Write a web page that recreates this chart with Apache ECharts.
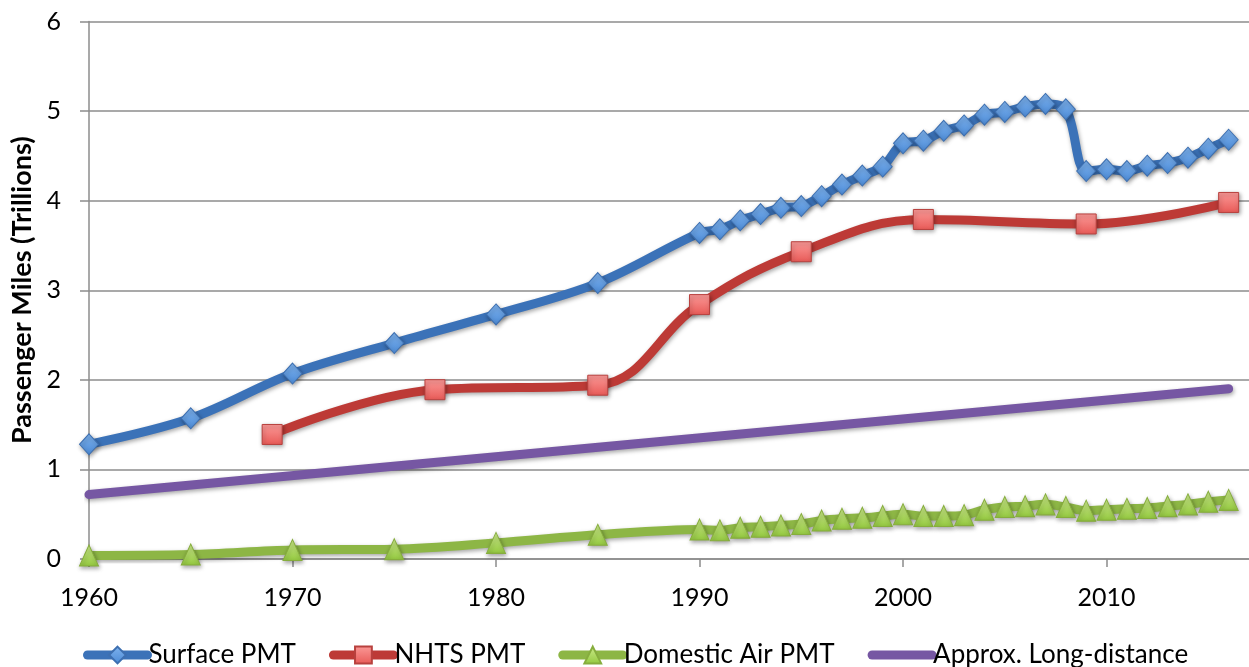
<!DOCTYPE html>
<html>
<head>
<meta charset="utf-8">
<script src="https://cdn.jsdelivr.net/npm/echarts@6/dist/echarts.min.js"></script>
<style>
html,body{margin:0;padding:0;background:#fff;}
#chart{width:1249px;height:667px;}
</style>
</head>
<body>
<div id="chart"></div>
<script>
// ---- Data ----
var surfaceYears = [1960,1965,1970,1975,1980,1985,1990,1991,1992,1993,1994,1995,1996,1997,1998,1999,2000,2001,2002,2003,2004,2005,2006,2007,2008,2009,2010,2011,2012,2013,2014,2015,2016];
var surfaceValues = [1.28,1.57,2.07,2.41,2.73,3.08,3.64,3.68,3.78,3.85,3.92,3.94,4.05,4.18,4.28,4.38,4.64,4.67,4.78,4.84,4.96,4.99,5.05,5.08,5.02,4.33,4.35,4.33,4.39,4.42,4.48,4.58,4.68];
var nhtsYears = [1969,1977,1985,1990,1995,2001,2009,2016];
var nhtsValues = [1.39,1.89,1.94,2.84,3.43,3.79,3.74,3.98];
var airYears = surfaceYears;
var airValues = [0.04,0.05,0.10,0.11,0.18,0.27,0.33,0.32,0.35,0.36,0.375,0.39,0.43,0.45,0.46,0.48,0.50,0.48,0.48,0.49,0.55,0.58,0.59,0.61,0.58,0.54,0.55,0.56,0.57,0.59,0.61,0.64,0.66];
var longYears = [1960,2016];
var longValues = [0.72,1.90];
var seriesNames = ['Surface PMT','NHTS PMT','Domestic Air PMT','Approx. Long-distance'];
var yTicks = [0,1,2,3,4,5,6];
var xTicks = [1960,1970,1980,1990,2000,2010];

function pairs(xs, ys){ return xs.map(function(x,i){ return [x, ys[i]]; }); }

var FONT = 'Lato';
var chart = echarts.init(document.getElementById('chart'));
var shadow = {shadowBlur:4, shadowColor:'rgba(0,0,0,0.35)', shadowOffsetX:1, shadowOffsetY:2};

function grad(c1,c2){ return new echarts.graphic.LinearGradient(0,0,0,1,[{offset:0,color:c1},{offset:1,color:c2}]); }

chart.setOption({
  animation:false,
  backgroundColor:'#ffffff',
  grid:{left:89, right:0, top:21.5, bottom:108, containLabel:false},
  xAxis:{
    type:'value', min:1960, max:2017, interval:10,
    axisLine:{show:true, lineStyle:{color:'#8c8c8c', width:1.5}},
    axisTick:{show:true, length:8, lineStyle:{color:'#8c8c8c', width:1.5}},
    splitLine:{show:false},
    axisLabel:{
      margin:26, fontFamily:FONT, fontSize:25, color:'#000',
      showMaxLabel:false,
      formatter:function(v){ return xTicks.indexOf(v) >= 0 ? String(v) : ''; }
    }
  },
  yAxis:{
    type:'value', min:yTicks[0], max:yTicks[yTicks.length-1], interval:1,
    name:'Passenger Miles (Trillions)', nameLocation:'middle', nameGap:50,
    nameTextStyle:{fontFamily:FONT, fontSize:27, fontWeight:'bold', color:'#000'},
    axisLine:{show:true, lineStyle:{color:'#8c8c8c', width:1.5}},
    axisTick:{show:true, length:9, lineStyle:{color:'#8c8c8c', width:1.5}},
    splitLine:{show:true, lineStyle:{color:'#8c8c8c', width:1.5}},
    axisLabel:{margin:28, fontFamily:FONT, fontSize:25, color:'#000'}
  },
  legend:{
    left:78, top:637, itemWidth:60, itemHeight:21, itemGap:33,
    textStyle:{fontFamily:FONT, fontSize:26, color:'#000', padding:[0,0,0,-4]},
    lineStyle:{width:9, cap:'round'},
    data:[
      seriesNames[0], seriesNames[1], seriesNames[2],
      {name:seriesNames[3], itemStyle:{color:'rgba(0,0,0,0)', borderColor:'rgba(0,0,0,0)', borderWidth:0, shadowBlur:0, shadowColor:'rgba(0,0,0,0)'}}
    ]
  },
  series:[
    {
      name:seriesNames[0], type:'line', smooth:0.35,
      data:pairs(surfaceYears, surfaceValues),
      symbol:'diamond', symbolSize:[19,21],
      lineStyle:Object.assign({color:'#3b72b8', width:9, cap:'round', join:'round'}, shadow),
      itemStyle:Object.assign({color:grad('#7fb3ee','#4b8ad6'), borderColor:'#3d6fb0', borderWidth:1}, shadow),
      z:2
    },
    {
      name:seriesNames[1], type:'line', smooth:0.4,
      data:pairs(nhtsYears, nhtsValues),
      symbol:'rect', symbolSize:20,
      lineStyle:Object.assign({color:'#bd3a36', width:9, cap:'round', join:'round'}, shadow),
      itemStyle:Object.assign({color:grad('#fb9a98','#e85a57'), borderColor:'#b8413e', borderWidth:1}, shadow),
      z:3
    },
    {
      name:seriesNames[2], type:'line', smooth:0.35,
      data:pairs(airYears, airValues),
      symbol:'triangle', symbolSize:[19,21],
      lineStyle:Object.assign({color:'#8db645', width:9, cap:'round', join:'round'}, shadow),
      itemStyle:Object.assign({color:grad('#cdeb8c','#93c83f'), borderColor:'#86ad3d', borderWidth:1}, shadow),
      z:4
    },
    {
      name:seriesNames[3], type:'line', smooth:false,
      data:pairs(longYears, longValues),
      symbol:'none', showSymbol:false,
      lineStyle:Object.assign({color:'#7657a3', width:9, cap:'round'}, shadow),
      itemStyle:{color:'#7657a3'},
      z:5
    }
  ]
});
</script>
</body>
</html>
